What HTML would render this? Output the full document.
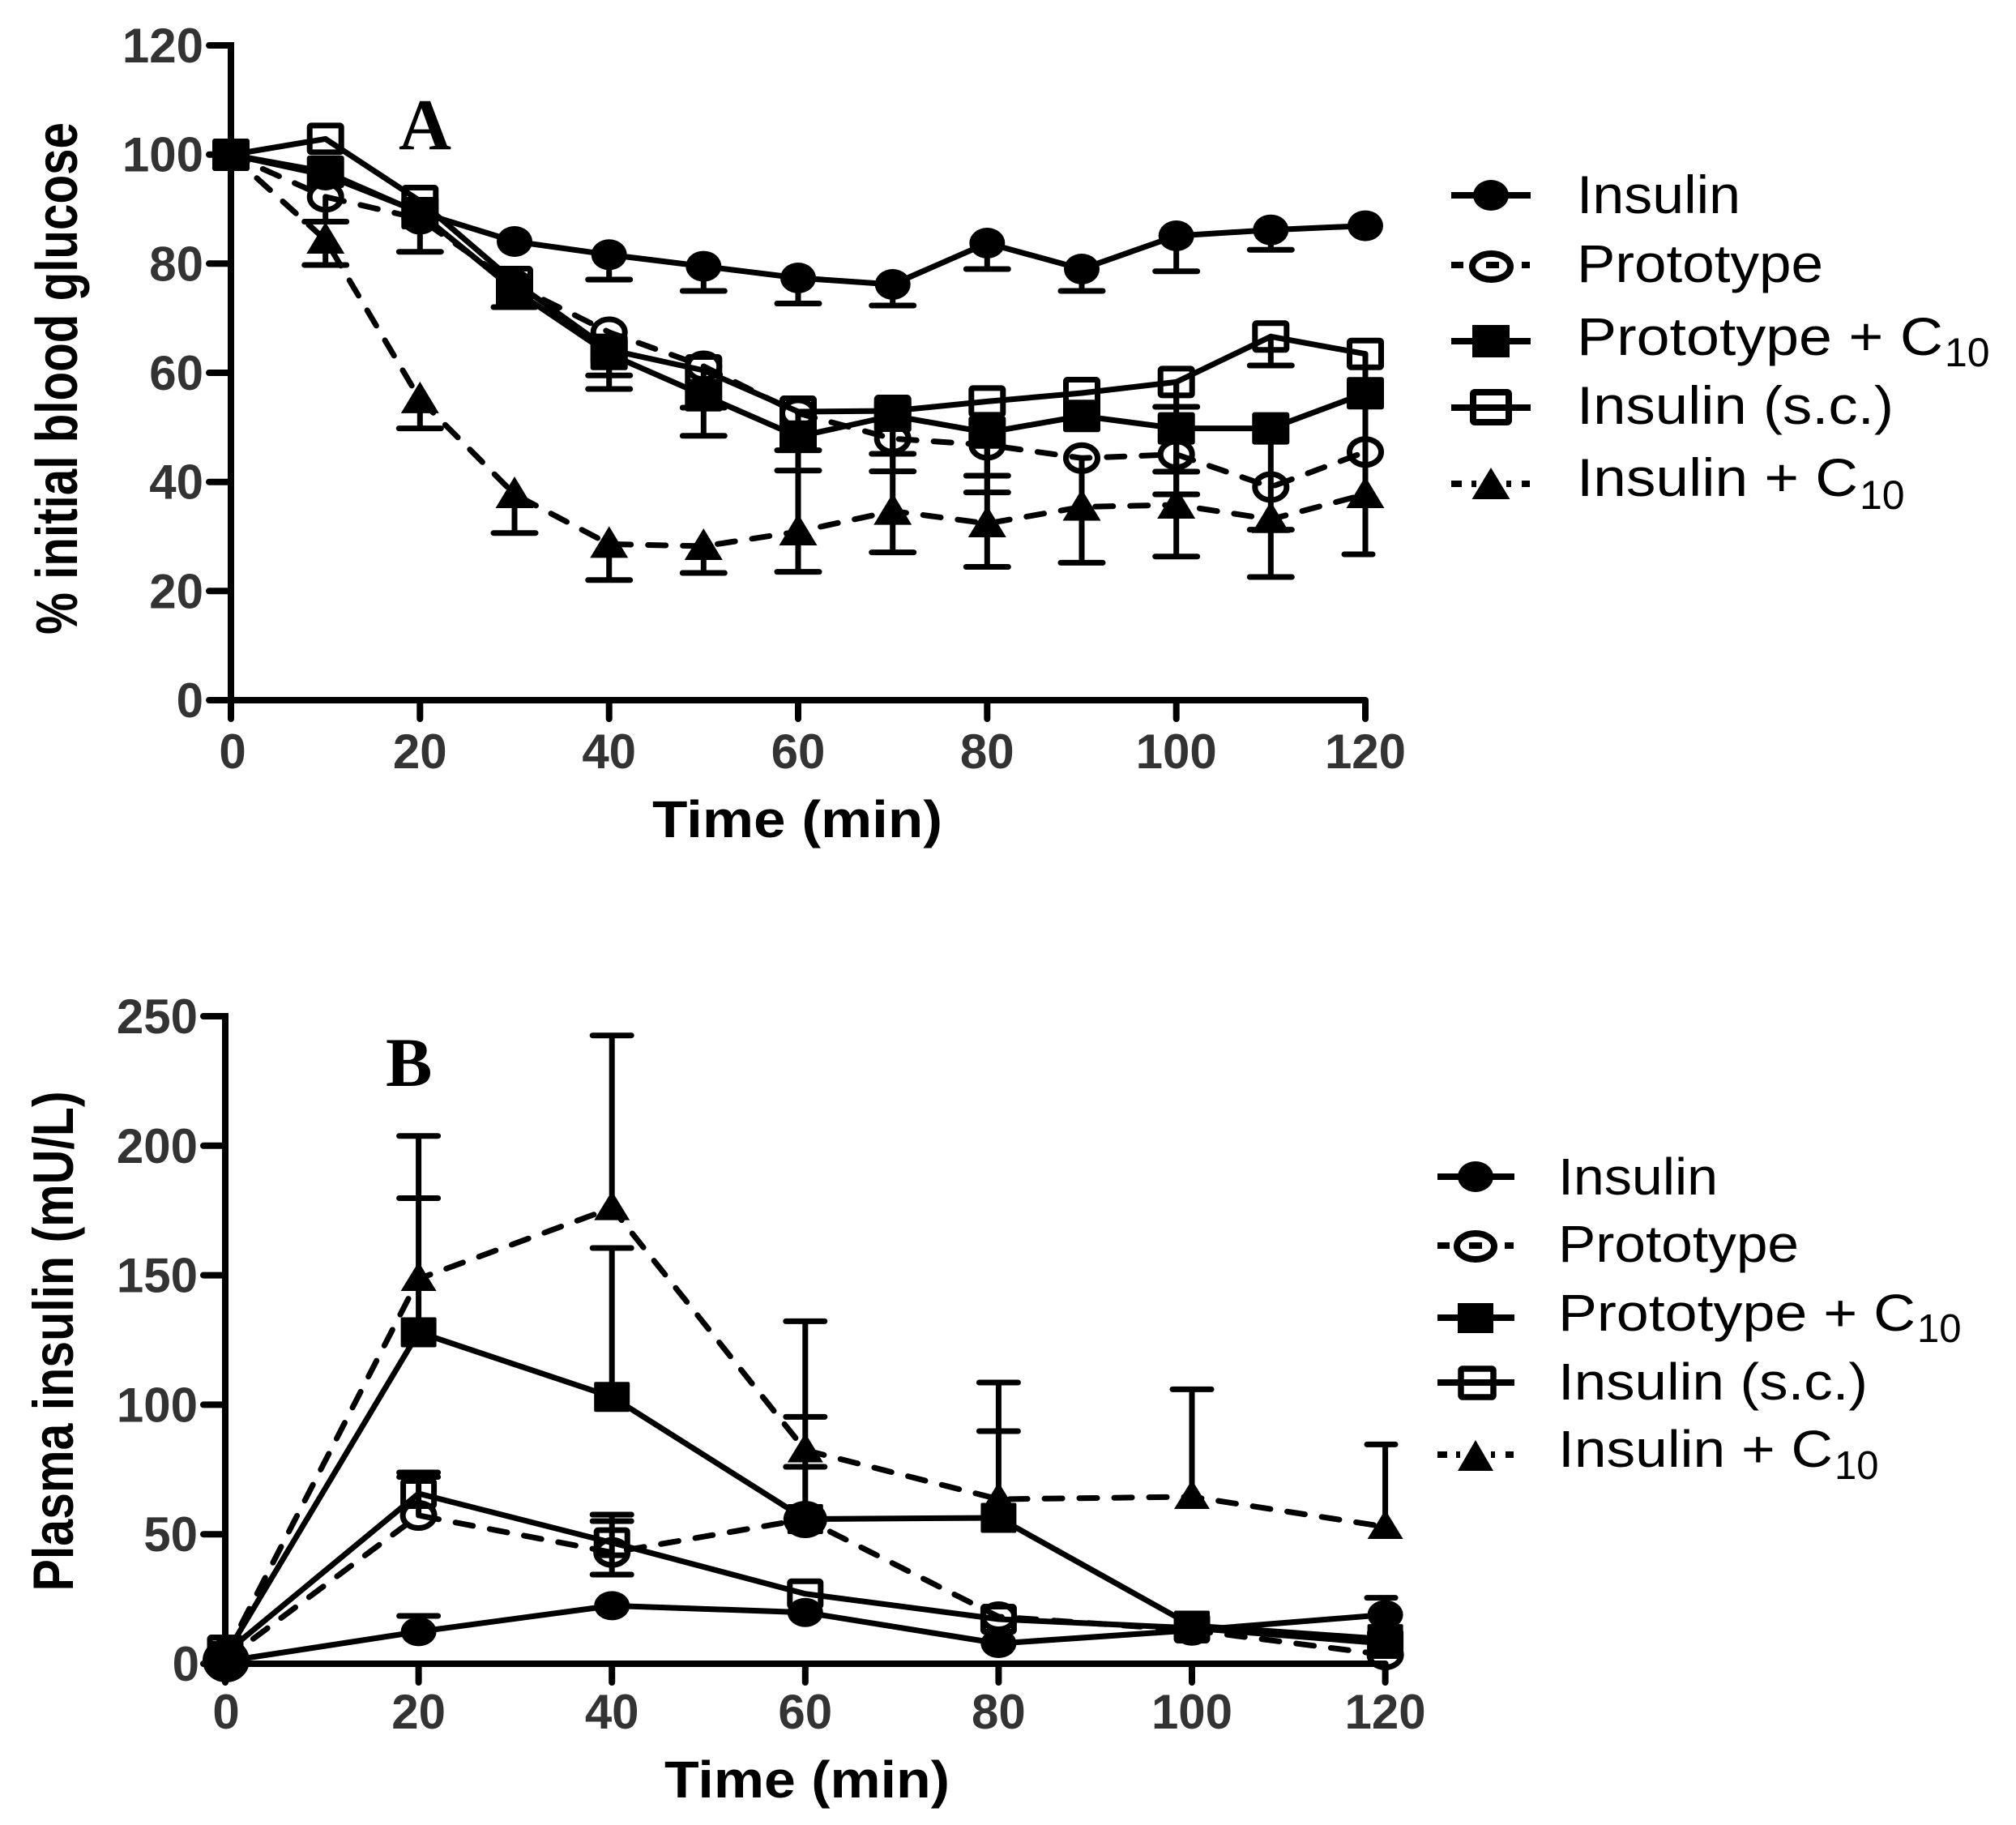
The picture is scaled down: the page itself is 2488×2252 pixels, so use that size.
<!DOCTYPE html>
<html>
<head>
<meta charset="utf-8">
<style>
  html, body { margin: 0; padding: 0; background: #fff; }
  svg { display: block; }
  .tick { font-family: "Liberation Sans", Arial, sans-serif; font-weight: bold; font-size: 60px; fill: #333; }
  .title { font-family: "Liberation Sans", Arial, sans-serif; font-weight: bold; fill: #000; }
  .leg { font-family: "Liberation Sans", Arial, sans-serif; fill: #000; }
  .panel { font-family: "Liberation Serif", "Times New Roman", serif; font-weight: bold; fill: #000; }
</style>
</head>
<body>
<svg width="2488" height="2252" viewBox="0 0 2488 2252" xmlns="http://www.w3.org/2000/svg">
<defs>
  <ellipse id="fcA" cx="0" cy="0" rx="22" ry="19" fill="#000"/>
  <rect id="fsA" x="-23" y="-20" width="46" height="40" rx="3" fill="#000"/>
  <rect id="osA" x="-19.5" y="-16.5" width="39" height="33" rx="2" fill="none" stroke="#000" stroke-width="7"/>
  <ellipse id="ocA" cx="0" cy="0" rx="19.5" ry="16" fill="none" stroke="#000" stroke-width="7"/>
  <polygon id="trA" points="0,-22 23.5,17 -23.5,17" fill="#000"/>

  <ellipse id="fcB" cx="0" cy="0" rx="22" ry="18" fill="#000"/>
  <rect id="fsB" x="-22" y="-18.5" width="44" height="37" rx="2" fill="#000"/>
  <rect id="osB" x="-19" y="-15.5" width="38" height="31" rx="2" fill="none" stroke="#000" stroke-width="7"/>
  <ellipse id="ocB" cx="0" cy="0" rx="19.5" ry="15.5" fill="none" stroke="#000" stroke-width="7"/>
  <polygon id="trB" points="0,-21 22,15 -22,15" fill="#000"/>
</defs>

<rect x="0" y="0" width="2488" height="2252" fill="#fff"/>

<!-- ================= PANEL A ================= -->
<g stroke="#000" stroke-width="8" fill="none" stroke-linecap="round">
  <path d="M258,56 H285 V887" stroke-linejoin="miter" stroke-linecap="round"/>
  <path d="M258,864 H1685" stroke-linecap="butt"/>
  <path d="M258,864 H285"/>
  <path d="M258,729.3 H285 M258,594.7 H285 M258,460 H285 M258,325.3 H285 M258,190.7 H285"/>
  <path d="M518.3,864 V887 M751.7,864 V887 M985,864 V887 M1218.3,864 V887 M1451.7,864 V887 M1685,864 V887"/>
</g>

<g class="tick" text-anchor="end">
  <text x="251" y="885">0</text>
  <text x="251" y="750.3">20</text>
  <text x="251" y="615.7">40</text>
  <text x="251" y="481">60</text>
  <text x="251" y="346.3">80</text>
  <text x="251" y="211.7">100</text>
  <text x="251" y="77">120</text>
</g>
<g class="tick" text-anchor="middle">
  <text x="287" y="948">0</text>
  <text x="518.3" y="948">20</text>
  <text x="751.7" y="948">40</text>
  <text x="985" y="948">60</text>
  <text x="1218.3" y="948">80</text>
  <text x="1451.7" y="948">100</text>
  <text x="1685" y="948">120</text>
</g>

<text class="title" x="805" y="1033" font-size="64" textLength="358" lengthAdjust="spacingAndGlyphs">Time (min)</text>
<text class="title" font-size="60" text-anchor="middle" textLength="632" lengthAdjust="spacingAndGlyphs" transform="translate(95,467) scale(1.2,1) rotate(-90)">% initial blood glucose</text>
<text class="panel" x="492" y="184" font-size="90">A</text>

<g stroke="#000" stroke-width="7" fill="none" stroke-linecap="round">
  <path d="M751.7,314.3V345 M725.7,345H777.7
    M868.3,328.6V359 M842.3,359H894.3
    M985,343V374.5 M959,374.5H1011
    M1101.7,351V377 M1075.7,377H1127.7
    M1218.3,300V332 M1192.3,332H1244.3
    M1335,332V359 M1309,359H1361
    M1451.7,291V334.7 M1425.7,334.7H1477.7
    M1568.3,283.7V308.2 M1542.3,308.2H1594.3"/>
  <path d="M401.7,242.9V273.5 M375.7,273.5H427.7
    M518.3,270V310.7 M492.3,310.7H544.3
    M751.7,410V463.3 M725.7,463.3H777.7
    M868.3,452V503 M842.3,503H894.3
    M985,510V555.6 M959,555.6H1011
    M1101.7,541.3V560 M1075.7,560H1127.7
    M1218.3,549V607.6 M1192.3,607.6H1244.3
    M1451.7,560.7V610 M1425.7,610H1477.7
    M1568.3,601V653.6 M1542.3,653.6H1594.3"/>
  <path d="M635,358V379 M609,379H661
    M751.7,436.7V480 M725.7,480H777.7
    M868.3,487.8V537.8 M842.3,537.8H894.3
    M985,538.8V580.6 M959,580.6H1011
    M1101.7,513V581.6 M1075.7,581.6H1127.7
    M1218.3,533.7V587 M1192.3,587H1244.3
    M1451.7,528.6V582 M1425.7,582H1477.7"/>
  <path d="M1451.7,471.4V502 M1425.7,502H1477.7
    M1568.3,415.3V451 M1542.3,451H1594.3
    M1685,436.7V684"/>
  <path d="M1335,565.3V625.5 M1568.3,528.6V601 M1451.7,471.4V623 M1101.7,513V630.6 M1218.3,533.7V646 M985,538.8V656"/>
  <path d="M401.7,296V327 M375.7,327H427.7
    M518.3,492.9V528.6 M492.3,528.6H544.3
    M635,610V657.7 M609,657.7H661
    M751.7,671.4V715.8 M725.7,715.8H777.7
    M868.3,674V707 M842.3,707H894.3
    M985,656V705.6 M959,705.6H1011
    M1101.7,630.6V681.6 M1075.7,681.6H1127.7
    M1218.3,646V699.5 M1192.3,699.5H1244.3
    M1335,625.5V694.4 M1309,694.4H1361
    M1451.7,623V686.7 M1425.7,686.7H1477.7
    M1568.3,640.8V712 M1542.3,712H1594.3
    M1685,610V684 M1659,684H1694"/>
</g>

<g stroke="#000" stroke-width="7" fill="none" stroke-linejoin="round" stroke-linecap="round">
  <polyline points="285,191 401.7,296 518.3,492.9 635,610 751.7,671.4 868.3,674 985,656 1101.7,630.6 1218.3,646 1335,625.5 1451.7,623 1568.3,640.8 1685,610" stroke-dasharray="22 21"/>
  <polyline points="285,191 401.7,242.9 518.3,270 635,352 751.7,410 868.3,452 985,510 1101.7,541.3 1218.3,549 1335,565.3 1451.7,560.7 1568.3,601 1685,557.7" stroke-dasharray="22 21"/>
  <polyline points="285,191 401.7,171.4 518.3,248 635,348 751.7,431.6 868.3,457 985,508 1101.7,507 1218.3,495.4 1335,485 1451.7,471.4 1568.3,415.3 1685,436.7"/>
  <polyline points="285,191 401.7,212 518.3,263 635,358 751.7,436.7 868.3,487.8 985,538.8 1101.7,513 1218.3,533.7 1335,513.3 1451.7,528.6 1568.3,528.6 1685,485.2"/>
  <polyline points="285,191 401.7,216 518.3,262 635,298 751.7,314.3 868.3,328.6 985,343 1101.7,351 1218.3,300 1335,332 1451.7,291 1568.3,283.7 1685,278.6"/>
</g>

<g>
  <use href="#trA" x="285" y="191"/><use href="#trA" x="401.7" y="296"/><use href="#trA" x="518.3" y="492.9"/>
  <use href="#trA" x="635" y="610"/><use href="#trA" x="751.7" y="671.4"/><use href="#trA" x="868.3" y="674"/>
  <use href="#trA" x="985" y="656"/><use href="#trA" x="1101.7" y="630.6"/><use href="#trA" x="1218.3" y="646"/>
  <use href="#trA" x="1335" y="625.5"/><use href="#trA" x="1451.7" y="623"/><use href="#trA" x="1568.3" y="640.8"/>
  <use href="#trA" x="1685" y="610"/>
</g>
<g>
  <use href="#ocA" x="285" y="191"/><use href="#ocA" x="401.7" y="242.9"/><use href="#ocA" x="518.3" y="270"/>
  <use href="#ocA" x="635" y="352"/><use href="#ocA" x="751.7" y="410"/><use href="#ocA" x="868.3" y="452"/>
  <use href="#ocA" x="985" y="510"/><use href="#ocA" x="1101.7" y="541.3"/><use href="#ocA" x="1218.3" y="549"/>
  <use href="#ocA" x="1335" y="565.3"/><use href="#ocA" x="1451.7" y="560.7"/><use href="#ocA" x="1568.3" y="601"/>
  <use href="#ocA" x="1685" y="557.7"/>
</g>
<g>
  <use href="#osA" x="285" y="191"/><use href="#osA" x="401.7" y="171.4"/><use href="#osA" x="518.3" y="248"/>
  <use href="#osA" x="635" y="348"/><use href="#osA" x="751.7" y="431.6"/><use href="#osA" x="868.3" y="457"/>
  <use href="#osA" x="985" y="508"/><use href="#osA" x="1101.7" y="507"/><use href="#osA" x="1218.3" y="495.4"/>
  <use href="#osA" x="1335" y="485"/><use href="#osA" x="1451.7" y="471.4"/><use href="#osA" x="1568.3" y="415.3"/>
  <use href="#osA" x="1685" y="436.7"/>
</g>
<g>
  <use href="#fsA" x="285" y="191"/><use href="#fsA" x="401.7" y="212"/><use href="#fsA" x="518.3" y="263"/>
  <use href="#fsA" x="635" y="358"/><use href="#fsA" x="751.7" y="436.7"/><use href="#fsA" x="868.3" y="487.8"/>
  <use href="#fsA" x="985" y="538.8"/><use href="#fsA" x="1101.7" y="513"/><use href="#fsA" x="1218.3" y="533.7"/>
  <use href="#fsA" x="1335" y="513.3"/><use href="#fsA" x="1451.7" y="528.6"/><use href="#fsA" x="1568.3" y="528.6"/>
  <use href="#fsA" x="1685" y="485.2"/>
</g>
<g>
  <use href="#fcA" x="401.7" y="216"/><use href="#fcA" x="518.3" y="262"/>
  <use href="#fcA" x="635" y="298"/><use href="#fcA" x="751.7" y="314.3"/><use href="#fcA" x="868.3" y="328.6"/>
  <use href="#fcA" x="985" y="343"/><use href="#fcA" x="1101.7" y="351"/><use href="#fcA" x="1218.3" y="300"/>
  <use href="#fcA" x="1335" y="332"/><use href="#fcA" x="1451.7" y="291"/><use href="#fcA" x="1568.3" y="283.7"/>
  <use href="#fcA" x="1685" y="278.6"/>
</g>

<!-- legend A -->
<g stroke="#000" fill="none" stroke-linecap="butt">
  <path d="M1791,241H1889" stroke-width="8"/>
  <path d="M1791,327H1806 M1834,327H1850 M1878,327H1888" stroke-width="8"/>
  <ellipse cx="1840.5" cy="329" rx="23.5" ry="16" stroke-width="8"/>
  <path d="M1791,421H1889" stroke-width="8"/>
  <path d="M1791,503H1889" stroke-width="8"/>
  <rect x="1818" y="484" width="44" height="37" rx="2" stroke-width="8"/>
  <path d="M1791,597H1804 M1816,597H1822 M1859,597H1865 M1878,597H1888" stroke-width="8"/>
</g>
<ellipse cx="1840" cy="241" rx="22" ry="19" fill="#000"/>
<rect x="1817" y="401" width="46" height="40" fill="#000"/>
<polygon points="1840,577 1863.5,616 1816.5,616" fill="#000"/>

<g class="leg" font-size="66">
  <text x="1946" y="263" textLength="202" lengthAdjust="spacingAndGlyphs">Insulin</text>
  <text x="1946" y="348" textLength="304" lengthAdjust="spacingAndGlyphs">Prototype</text>
  <text x="1946" y="438" textLength="452" lengthAdjust="spacingAndGlyphs">Prototype + C</text>
  <text x="2400" y="452" font-size="50">10</text>
  <text x="1946" y="523" textLength="391" lengthAdjust="spacingAndGlyphs">Insulin (s.c.)</text>
  <text x="1946" y="612" textLength="347" lengthAdjust="spacingAndGlyphs">Insulin + C</text>
  <text x="2295" y="628" font-size="50">10</text>
</g>

<!-- ================= PANEL B ================= -->
<g stroke="#000" stroke-width="8" fill="none" stroke-linecap="round">
  <path d="M251,1254 H278 V2076" stroke-linejoin="miter"/>
  <path d="M251,2053 H1710" stroke-linecap="butt"/>
  <path d="M251,2053 H278"/>
  <path d="M251,1893.2 H278 M251,1733.4 H278 M251,1573.6 H278 M251,1413.8 H278"/>
  <path d="M516.6,2053 V2076 M755.2,2053 V2076 M993.8,2053 V2076 M1232.4,2053 V2076 M1471,2053 V2076 M1709.6,2053 V2076"/>
</g>

<g class="tick" text-anchor="end">
  <text x="246" y="2074">0</text>
  <text x="244" y="1914.2">50</text>
  <text x="244" y="1754.4">100</text>
  <text x="244" y="1594.6">150</text>
  <text x="244" y="1434.8">200</text>
  <text x="244" y="1275">250</text>
</g>
<g class="tick" text-anchor="middle">
  <text x="279" y="2133">0</text>
  <text x="516.6" y="2133">20</text>
  <text x="755.2" y="2133">40</text>
  <text x="993.8" y="2133">60</text>
  <text x="1232.4" y="2133">80</text>
  <text x="1471" y="2133">100</text>
  <text x="1709.6" y="2133">120</text>
</g>

<text class="title" x="820" y="2218" font-size="64" textLength="352" lengthAdjust="spacingAndGlyphs">Time (min)</text>
<text class="title" font-size="60" text-anchor="middle" textLength="617" lengthAdjust="spacingAndGlyphs" transform="translate(90,1655) scale(1.18,1) rotate(-90)">Plasma insulin (mU/L)</text>
<text class="panel" x="476" y="1340" font-size="86">B</text>

<g stroke="#000" stroke-width="7" fill="none" stroke-linecap="round">
  <path d="M516.6,1578V1401.7 M492.6,1401.7H540.6
    M516.6,1644V1478.5 M492.6,1478.5H540.6
    M516.6,1843V1817 M492.6,1817H540.6
    M516.6,1870V1822.5 M492.6,1822.5H540.6
    M516.6,2013.4V1994 M492.6,1994H540.6
    M755.2,1490.6V1277.7 M731.2,1277.7H779.2
    M755.2,1723.7V1540 M731.2,1540H779.2
    M755.2,1903.6V1869 M731.2,1869H779.2
    M755.2,1915.7V1877 M731.2,1877H779.2
    M755.2,1915.7V1943 M731.2,1943H779.2
    M993.8,1789.5V1630.4 M969.8,1630.4H1017.8
    M993.8,1874.5V1748.4 M969.8,1748.4H1017.8
    M993.8,1874.5V1810 M969.8,1810H1017.8
    M1232.4,1850V1706 M1208.4,1706H1256.4
    M1232.4,1873V1766 M1208.4,1766H1256.4
    M1471,1847V1714.4 M1447,1714.4H1495
    M1709.6,1884V1782.4 M1687,1782.4H1722
    M1709.6,1992.5V1971.6 M1687,1971.6H1722"/>
</g>

<g stroke="#000" stroke-width="7" fill="none" stroke-linejoin="round" stroke-linecap="round">
  <polyline points="278,2043 516.6,1578 755.2,1490.6 993.8,1789.5 1232.4,1850 1471,1847 1709.6,1884" stroke-dasharray="22 21"/>
  <polyline points="278,2048 516.6,1870 755.2,1915.7 993.8,1874.5 1232.4,1995 1471,2011.7 1709.6,2042" stroke-dasharray="22 21"/>
  <polyline points="278,2040 516.6,1843 755.2,1903.6 993.8,1966.7 1232.4,1998 1471,2009 1709.6,2028"/>
  <polyline points="278,2043 516.6,1644 755.2,1723.7 993.8,1874.5 1232.4,1873 1471,2006 1709.6,2022.6"/>
  <polyline points="278,2050 516.6,2013.4 755.2,1981.4 993.8,1989.7 1232.4,2028 1471,2011.7 1709.6,1992.5"/>
</g>

<g>
  <use href="#trB" x="278" y="2043"/><use href="#trB" x="516.6" y="1578"/><use href="#trB" x="755.2" y="1490.6"/>
  <use href="#trB" x="993.8" y="1789.5"/><use href="#trB" x="1232.4" y="1850"/><use href="#trB" x="1471" y="1847"/>
  <use href="#trB" x="1709.6" y="1884"/>
</g>
<g>
  <use href="#ocB" x="278" y="2048"/><use href="#ocB" x="516.6" y="1870"/><use href="#ocB" x="755.2" y="1915.7"/>
  <use href="#ocB" x="993.8" y="1874.5"/><use href="#ocB" x="1232.4" y="1995"/><use href="#ocB" x="1471" y="2011.7"/>
  <use href="#ocB" x="1709.6" y="2042"/>
</g>
<g>
  <use href="#osB" x="278" y="2036"/><use href="#osB" x="516.6" y="1843"/><use href="#osB" x="755.2" y="1903.6"/>
  <use href="#osB" x="993.8" y="1966.7"/><use href="#osB" x="1232.4" y="1998"/><use href="#osB" x="1471" y="2009"/>
  <use href="#osB" x="1709.6" y="2028"/>
</g>
<g>
  <use href="#fsB" x="278" y="2043"/><use href="#fsB" x="516.6" y="1644"/><use href="#fsB" x="755.2" y="1723.7"/>
  <use href="#fsB" x="993.8" y="1874.5"/><use href="#fsB" x="1232.4" y="1873"/><use href="#fsB" x="1471" y="2006"/>
  <use href="#fsB" x="1709.6" y="2022.6"/>
</g>
<g>
  <use href="#fcB" x="516.6" y="2013.4"/><use href="#fcB" x="755.2" y="1981.4"/>
  <use href="#fcB" x="993.8" y="1989.7"/><use href="#fcB" x="1232.4" y="2028"/><use href="#fcB" x="1471" y="2011.7"/>
  <use href="#fcB" x="1709.6" y="1992.5"/>
</g>
<ellipse cx="279" cy="2049" rx="29" ry="27" fill="#000"/>
<ellipse cx="993.8" cy="1875" rx="27" ry="23" fill="#000"/>

<!-- legend B -->
<g stroke="#000" fill="none" stroke-linecap="butt">
  <path d="M1774,1452H1869" stroke-width="8"/>
  <path d="M1774,1537H1789 M1813,1537H1829 M1857,1537H1868" stroke-width="8"/>
  <ellipse cx="1821" cy="1538" rx="23" ry="16" stroke-width="8"/>
  <path d="M1774,1626H1869" stroke-width="8"/>
  <path d="M1774,1706H1869" stroke-width="8"/>
  <rect x="1803" y="1689" width="40" height="35" rx="2" stroke-width="7.5"/>
  <path d="M1774,1795H1786 M1797,1795H1802 M1840,1795H1845 M1858,1795H1868" stroke-width="8"/>
</g>
<ellipse cx="1821" cy="1452" rx="22" ry="19" fill="#000"/>
<rect x="1799" y="1608" width="44" height="37" fill="#000"/>
<polygon points="1821,1777 1843,1815 1799,1815" fill="#000"/>

<g class="leg" font-size="64">
  <text x="1923" y="1474" textLength="197" lengthAdjust="spacingAndGlyphs">Insulin</text>
  <text x="1923" y="1557" textLength="297" lengthAdjust="spacingAndGlyphs">Prototype</text>
  <text x="1923" y="1642" textLength="441" lengthAdjust="spacingAndGlyphs">Prototype + C</text>
  <text x="2366" y="1656" font-size="49">10</text>
  <text x="1923" y="1727" textLength="382" lengthAdjust="spacingAndGlyphs">Insulin (s.c.)</text>
  <text x="1923" y="1810" textLength="339" lengthAdjust="spacingAndGlyphs">Insulin + C</text>
  <text x="2264" y="1825" font-size="49">10</text>
</g>

</svg>
</body>
</html>
